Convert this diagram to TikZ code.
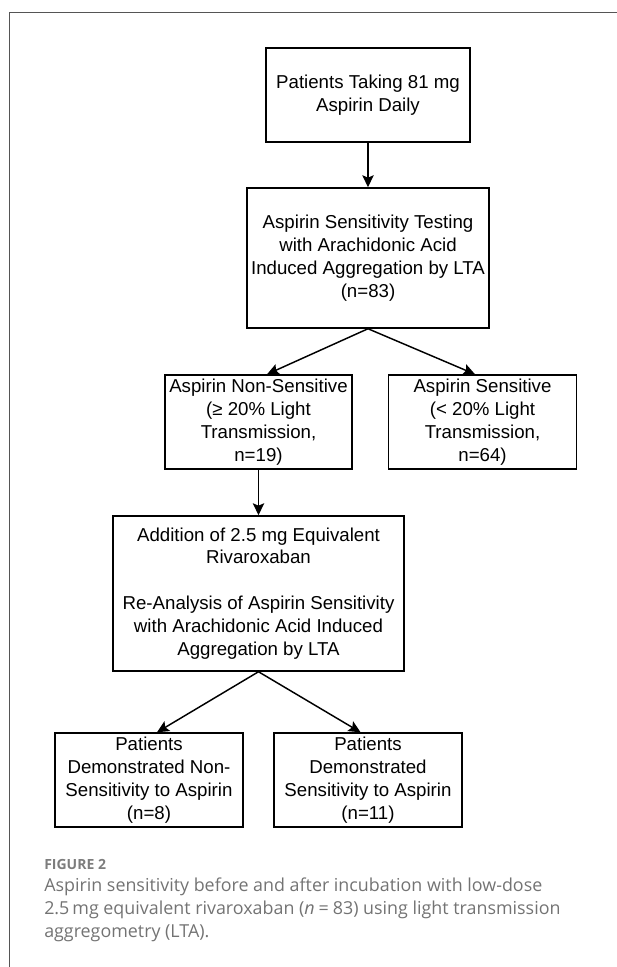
\documentclass[tikz,border=0pt]{standalone}
\usepackage{fontspec}
\setmainfont{Liberation Sans}
\newfontfamily\captionfont{Open Sans}
\usetikzlibrary{positioning, arrows.meta}

\definecolor{framegray}{RGB}{85,85,85}
\definecolor{labelgray}{RGB}{125,125,125}
\definecolor{captiongray}{RGB}{115,115,115}

\tikzset{
  flowbox/.style = {draw, line width=1.1pt, align=center, inner sep=0pt,
    font=\fontsize{14}{17.2}\selectfont},
  flowarrow/.style = {-{Stealth[length=9pt, width=8.5pt, inset=1.8pt]}, line width=1.1pt},
}

\begin{document}
\begin{tikzpicture}[x=0.75pt, y=-0.75pt]
  \useasboundingbox (0,0) rectangle (617,967);

  % outer frame, only top and left edges show
  \draw[framegray, line width=1.1pt] (9.5,967) -- (9.5,12.5) -- (617,12.5);

  % first test
  \node[flowbox, minimum width=153pt, minimum height=70.5pt] (daily) at (368,95)
    {Patients Taking 81 mg\\Aspirin Daily};
  \node[flowbox, minimum width=181.5pt, minimum height=105pt] (testing) at (368,258)
    {Aspirin Sensitivity Testing\\with Arachidonic Acid\\Induced Aggregation by LTA\\(n=83)};
  \node[flowbox, minimum width=140.25pt, minimum height=70.5pt] (nonsens) at (258.5,422)
    {Aspirin Non-Sensitive\\(≥ 20\% Light\\Transmission,\\n=19)};
  \node[flowbox, minimum width=141pt, minimum height=70.5pt] (sens) at (482.5,422)
    {Aspirin Sensitive\\(< 20\% Light\\Transmission,\\n=64)};

  % second test with rivaroxaban
  \node[flowbox, minimum width=218.25pt, minimum height=116.25pt] (rivaro) at (258.5,593.5)
    {Addition of 2.5 mg Equivalent\\Rivaroxaban\\[17.2pt]Re-Analysis of Aspirin Sensitivity\\with Arachidonic Acid Induced\\Aggregation by LTA};
  \node[flowbox, minimum width=141pt, minimum height=70.5pt] (stillnon) at (149,780)
    {Patients\\Demonstrated Non-\\Sensitivity to Aspirin\\(n=8)};
  \node[flowbox, minimum width=141pt, minimum height=70.5pt] (nowsens) at (368,780)
    {Patients\\Demonstrated\\Sensitivity to Aspirin\\(n=11)};

  \draw[flowarrow] (daily.south) -- (testing.north);
  \draw[flowarrow] (testing.south) -- ([xshift=6.4pt]nonsens.north);
  \draw[flowarrow] (testing.south) -- ([xshift=-5.6pt]sens.north);
  \draw[flowarrow] (nonsens.south) -- (rivaro.north);
  \draw[flowarrow] (rivaro.south) -- ([xshift=6pt]stillnon.north);
  \draw[flowarrow] (rivaro.south) -- ([xshift=-5.6pt]nowsens.north);

  % caption
  \node[anchor=base west, inner sep=0pt, text=labelgray,
    font=\captionfont\bfseries\fontsize{10.5}{12}\selectfont] (figlabel) at (44,869) {FIGURE 2};
  \node[anchor=base west, inner sep=0pt, text=captiongray, align=left,
    font=\captionfont\fontsize{13.4}{17.2}\selectfont] (figcaption) at (44,937)
    {Aspirin sensitivity before and after incubation with low-dose\\
     2.5\,mg equivalent rivaroxaban (\textit{n}\:=\:83) using light transmission\\
     aggregometry (LTA).};
\end{tikzpicture}
\end{document}
